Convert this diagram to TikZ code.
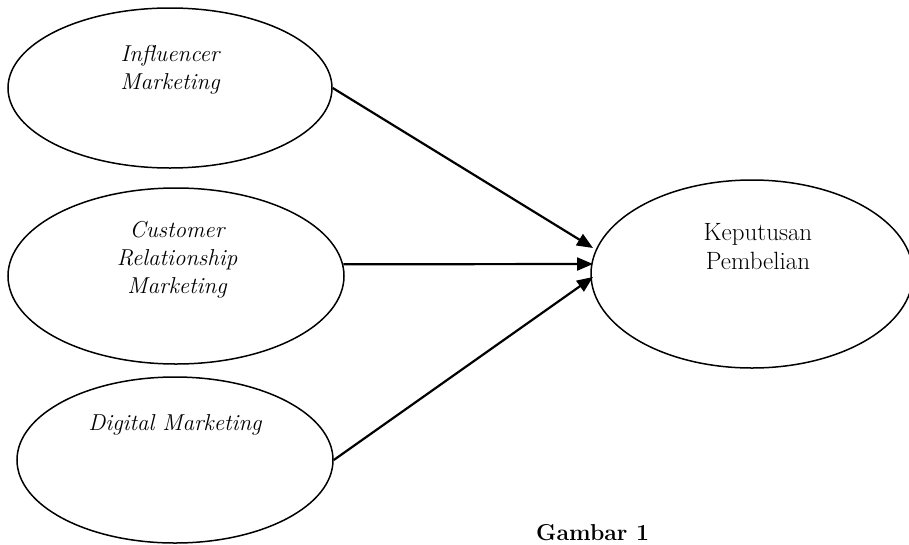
\documentclass[tikz,border=0pt]{standalone}
\usetikzlibrary{shapes.geometric,arrows.meta}
\begin{document}
\begin{tikzpicture}[x=1pt,y=-1pt]
      \useasboundingbox (0,0) rectangle (909,544);
      \def \Ovals{
        im/170/88/324/160,
        crm/176/276/336/176,
        dm/175/460/316/166,
        kp/752/274/322/188}
      \def \Tips{
        t1/593/248,
        t2/593/264,
        t3/593/277}
      \foreach \id / \x / \y / \w / \h in \Ovals{
        \node[draw,ellipse,line width=1.5pt,minimum width=\w pt,minimum height=\h pt,inner sep=0pt] (\id) at (\x, \y) {};
      }
      \foreach \id / \x / \y in \Tips{
        \coordinate (\id) at (\x, \y);
      }
      % texts sit in the upper half of each oval
      \node[font=\fontsize{23}{28}\selectfont\itshape,align=center] (imtext) at (170, 70) {Influencer\\Marketing};
      \node[font=\fontsize{23}{28}\selectfont\itshape,align=center] (crmtext) at (177, 260) {Customer\\Relationship\\Marketing};
      \node[font=\fontsize{23}{28}\selectfont\itshape] (dmtext) at (175, 425) {Digital Marketing};
      \node[font=\fontsize{25}{29}\selectfont,align=center] (kptext) at (758, 247) {Keputusan\\Pembelian};
      \node[font=\fontsize{23}{26}\selectfont\bfseries,anchor=base west,inner sep=0pt] (caption) at (536, 540) {Gambar 1};
      \foreach \x / \y in {im.east/t1, crm.4/t2, dm.east/t3}{
        \path[draw,-{Triangle[length=16pt,width=13pt]},line width=2.2pt] (\x) -- (\y);
      }
    \end{tikzpicture}
\end{document}
